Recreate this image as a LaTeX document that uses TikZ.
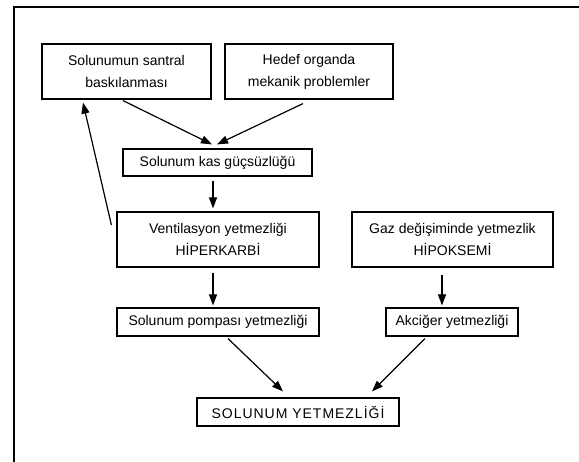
\documentclass[tikz,border=0pt]{standalone}
\usepackage{fontspec}
\setmainfont{Liberation Sans}
\usepackage{tikz}
\usetikzlibrary{arrows.meta,positioning}

\begin{document}
\begin{tikzpicture}[x=1pt,y=-1pt,
    font=\fontsize{14}{22}\selectfont,
    box/.style={draw,line width=1.2pt,align=center,inner sep=0pt,minimum height=28pt},
    tall/.style={box,minimum height=55pt},
    arr/.style={-{Triangle[length=11pt,width=8pt]},line width=1.2pt}]
  \useasboundingbox (0,0) rectangle (579,462);
  \draw[line width=2pt] (14,462) -- (14,7) -- (579,7);

  \node[tall,minimum width=169pt] (santral) at (126.5,71.5) {Solunumun santral\\ baskılanması};
  \node[tall,minimum width=168pt] (hedef) at (309,71.5) {Hedef organda\\ mekanik problemler};
  \node[box,minimum width=189pt,minimum height=27pt] (kas) at (217.5,162.5) {Solunum kas güçsüzlüğü};
  \node[tall,minimum width=202pt] (vent) at (218,239.5) {Ventilasyon yetmezliği\\ HİPERKARBİ};
  \node[tall,minimum width=201pt] (gaz) at (452.5,239.5) {Gaz değişiminde yetmezlik\\ HİPOKSEMİ};
  \node[box,minimum width=202pt] (pompa) at (218,322) {Solunum pompası yetmezliği};
  \node[box,minimum width=132pt] (akciger) at (452,322) {Akciğer yetmezliği};
  \node[box,minimum width=202pt,font=\fontsize{14}{22}\selectfont\addfontfeature{LetterSpace=7}] (sy) at (298,412) {SOLUNUM YETMEZLİĞİ};

  \draw[arr] ([shift={(-3.5,1)}]santral.south) -- ([shift={(-5.5,-4)}]kas.north);
  \draw[arr] ([shift={(-6,4)}]hedef.south) -- ([shift={(-0.5,-4)}]kas.north);
  \draw[arr] ([shift={(-4.5,4)}]kas.south) -- ([shift={(-5,-3)}]vent.north);
  \draw[arr] ([shift={(-5,-14.5)}]vent.west) -- ([shift={(-43.5,3)}]santral.south);
  \draw[arr] ([shift={(-5,5)}]vent.south) -- ([shift={(-5,-2)}]pompa.north);
  \draw[arr] ([shift={(-10.5,7)}]gaz.south) -- ([shift={(-10,-2)}]akciger.north);
  \draw[arr] ([shift={(10,2)}]pompa.south) -- ([shift={(-15,-6)}]sy.north);
  \draw[arr] ([shift={(-27,2)}]akciger.south) -- ([shift={(74,-6)}]sy.north);
\end{tikzpicture}
\end{document}
